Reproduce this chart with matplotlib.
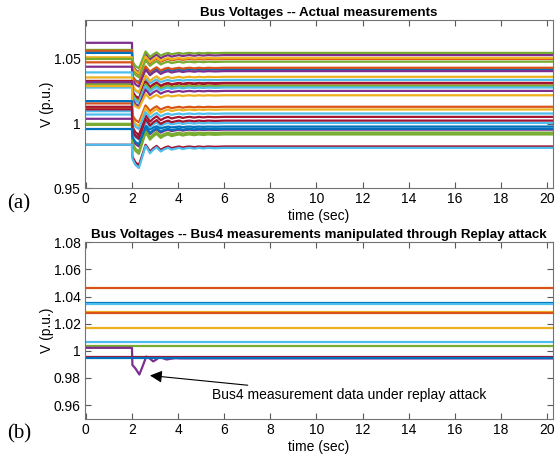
import matplotlib.pyplot as plt
import numpy as np

# MATLAB default colour order
mcol = ['#0072BD', '#D95319', '#EDB120', '#7E2F8E', '#77AC30', '#4DBEEE', '#A2142F']

# ---- (a) actual measurements: value before the event, value after, depth of dip, colour index
pre_v = [1.0625, 1.0570, 1.0563, 1.0547, 1.0513, 1.0500, 1.0474, 1.0440, 1.0396, 1.0357,
         1.0330, 1.0325, 1.0297, 1.0305, 1.0279, 1.0320, 1.0290,
         1.0156, 1.0120, 1.0174, 1.0130, 1.0096, 1.0070, 1.0037, 0.9998, 0.9990,
         1.0110, 0.9958, 0.9836, 0.9836]
post_v = [1.0530, 1.0547, 1.0500, 1.0420, 1.0508, 1.0479, 1.0432, 1.0406, 1.0338, 1.0362,
          1.0315, 1.0310, 1.0292, 1.0292, 1.0279, 1.0253, 1.0219,
          1.0130, 1.0109, 0.9977, 1.0052, 1.0078, 1.0005, 0.9953, 0.9930, 0.9916,
          1.0023, 0.9960, 0.9823, 0.9812]
dip = [0.0135, 0.012, 0.012, 0.010, 0.012, 0.012, 0.012, 0.012, 0.010, 0.012,
       0.012, 0.012, 0.012, 0.012, 0.012, 0.012, 0.010,
       0.012, 0.013, 0.008, 0.014, 0.012, 0.013, 0.013, 0.0147, 0.015,
       0.014, 0.012, 0.0145, 0.0155]
cidx = [3, 4, 1, 0, 2, 4, 1, 3, 5, 2,
        6, 6, 2, 4, 5, 3, 2,
        1, 2, 0, 6, 5, 5, 3, 4, 4,
        6, 0, 6, 5]

# transient shape read from the lowest (dark red) trace, as fraction of the dip
shape_t = [2.02, 2.15, 2.30, 2.45, 2.59, 2.70, 2.78, 2.92, 3.07, 3.16, 3.25, 3.40, 3.57,
           3.65, 3.72, 3.88, 4.05, 4.20, 4.35, 4.50, 4.70, 4.90, 5.10, 5.30, 5.60, 6.00, 20.3]
shape_s = [-0.55, -0.85, -1.0, -0.45, 0.09, -0.1, -0.27, -0.1, 0.03, -0.08, -0.18, -0.07, 0.0,
           -0.05, -0.09, -0.04, 0.0, -0.06, -0.02, 0.0, -0.04, 0.0, -0.03, 0.0, -0.02, 0.0, 0.0]

# ---- (b) replay attack: flat buses and Bus4 trace
flat_v = [1.0460, 1.0352, 1.0345, 1.0288, 1.0276, 1.0165, 1.0062, 1.0037]
flat_c = [1, 0, 5, 2, 1, 2, 5, 4]
bus4_t = [0, 2.0, 2.02, 2.15, 2.32, 2.45, 2.62, 2.78, 2.92, 3.05, 3.2, 3.35, 3.5, 3.7, 3.9, 4.1, 20.3]
bus4_v = [1.0022, 1.0022, 0.9895, 0.9870, 0.9825, 0.9880, 0.9958, 0.9942, 0.9922, 0.9935,
          0.9955, 0.9945, 0.9936, 0.9942, 0.9946, 0.9944, 0.9944]
last_v = [0.9956, 0.9944]
last_c = [6, 0]

plt.rcParams['font.family'] = 'Liberation Sans'
fig = plt.figure(figsize=(5.55, 4.59), dpi=100)
ax1 = fig.add_axes([0.153, 0.590, 0.8434, 0.366])
ax2 = fig.add_axes([0.153, 0.088, 0.8434, 0.384])

t_end = 20.3
for p, q, d, c in zip(pre_v, post_v, dip, cidx):
    tt = [0, 2.0] + shape_t
    vv = [p, p] + [q + d * s for s in shape_s]
    ax1.plot(tt, vv, color=mcol[c], lw=1.6)

for v, c in zip(flat_v, flat_c):
    ax2.plot([0, t_end], [v, v], color=mcol[c], lw=1.6)
ax2.plot(bus4_t, bus4_v, color=mcol[3], lw=1.6)
for v, c in zip(last_v, last_c):
    ax2.plot([0, t_end], [v, v], color=mcol[c], lw=1.6)

for ax in (ax1, ax2):
    ax.set_xlim(-0.04, 20.26)
    ax.set_ylim(0.95, 1.08)
    ax.set_xticks(range(0, 21, 2))
    ax.tick_params(direction='in', top=True, right=True, labelsize=10, length=4,
                   color='0.35', pad=3)
    for s in ax.spines.values():
        s.set_color('0.45')
    ax.set_xlabel('time (sec)', fontsize=10, labelpad=2)
    ax.set_ylabel('V (p.u.)', fontsize=10, labelpad=0)

ax1.set_yticks([0.95, 1.0, 1.05])
ax1.set_yticklabels(['0.95', '1', '1.05'])
ax2.set_yticks([0.96, 0.98, 1.0, 1.02, 1.04, 1.06, 1.08])
ax2.set_yticklabels(['0.96', '0.98', '1', '1.02', '1.04', '1.06', '1.08'])

ax1.set_title('Bus Voltages -- Actual measurements', fontsize=9.6, fontweight='bold', pad=3)
ax2.set_title('Bus Voltages -- Bus4 measurements manipulated through Replay attack',
              fontsize=9.6, fontweight='bold', pad=3)

ax2.annotate('Bus4 measurement data under replay attack', xy=(2.78, 0.9818), xytext=(5.45, 0.9672),
             fontsize=10, va='center',
             arrowprops=dict(arrowstyle='-|>', color='black', lw=0.8, mutation_scale=18,
                             shrinkA=2, shrinkB=0))

fig.text(0.012, 0.545, '(a)', family='Liberation Serif', fontsize=15)
fig.text(0.012, 0.045, '(b)', family='Liberation Serif', fontsize=15)

fig.savefig('out.png', dpi=100)
